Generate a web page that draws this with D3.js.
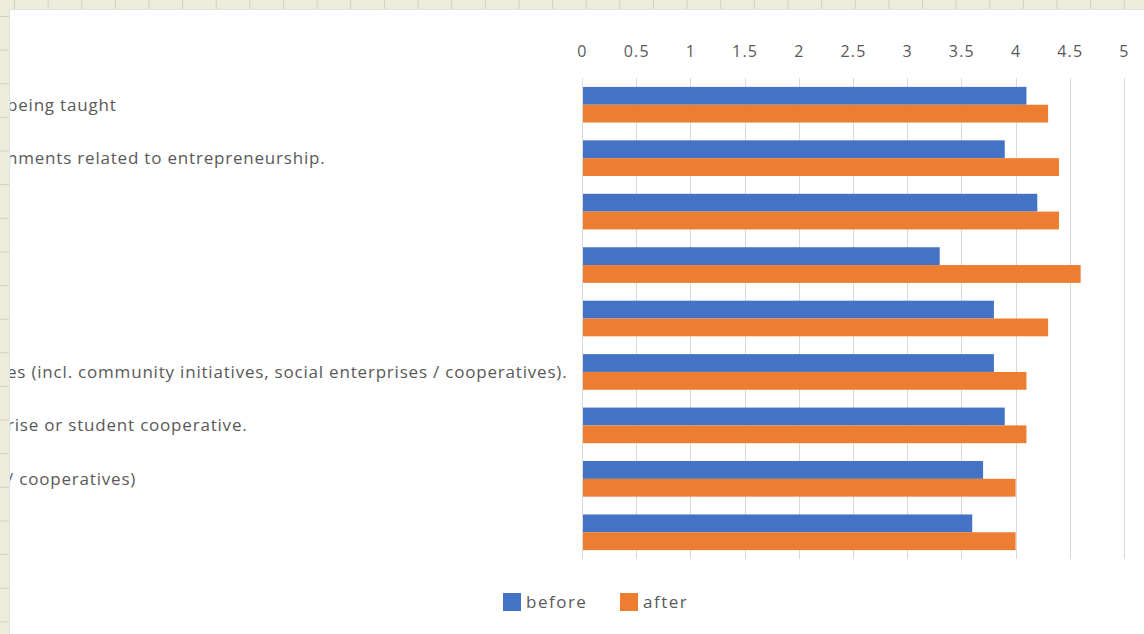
<!DOCTYPE html>
<meta charset="utf-8">
<style>
  body { margin: 0; background: #eeedd9; }
  svg { display: block; }
  .lbl { font-family: "Open Sans", sans-serif; font-size: 17px; letter-spacing: 0.8px; fill: #595959; }
  .tick text { font-family: "Open Sans", sans-serif; font-size: 16px; letter-spacing: 1.2px; fill: #595959; }
</style>
<svg width="1144" height="634"></svg>
<script src="https://d3js.org/d3.v7.min.js"></script>
<script>

// category labels, only the part that shows in the chart window
var categories = [
  "being taught",
  "nments related to entrepreneurship.",
  "",
  "",
  "",
  "es (incl. community initiatives, social enterprises / cooperatives).",
  "rise or student cooperative.",
  "/ cooperatives)",
  ""
];
var before = [4.1, 3.9, 4.2, 3.3, 3.8, 3.8, 3.9, 3.7, 3.6];
var after  = [4.3, 4.4, 4.4, 4.6, 4.3, 4.1, 4.1, 4.0, 4.0];
var series = ["before", "after"];
var colors = ["#4472c4", "#ed7d31"];
var ticks = [0, 0.5, 1, 1.5, 2, 2.5, 3, 3.5, 4, 4.5, 5];

var svg = d3.select("svg"),
    width = +svg.attr("width"),
    height = +svg.attr("height");

// spreadsheet grid behind the chart
var cell = 33.63;
var bg = svg.append("g");
d3.range(14.5, width, cell).forEach(function(x) {
  bg.append("line").attr("x1", x).attr("x2", x).attr("y1", 0).attr("y2", 9)
    .attr("stroke", "#d4d2bf").attr("stroke-width", 1);
});
d3.range(16.5, height, cell).forEach(function(y) {
  bg.append("line").attr("x1", 0).attr("x2", 9).attr("y1", y).attr("y2", y)
    .attr("stroke", "#d4d2bf").attr("stroke-width", 1);
});

// chart area
svg.append("rect")
    .attr("x", 9.5).attr("y", 9.5)
    .attr("width", width).attr("height", height)
    .attr("fill", "#fff")
    .attr("stroke", "#dde1ea");

svg.append("clipPath").attr("id", "chartClip")
  .append("rect").attr("x", 10).attr("y", 10).attr("width", width).attr("height", height);

var plot = { left: 582, right: 1124, top: 78, bottom: 559 };

var x = d3.scaleLinear().domain([0, 5]).range([plot.left, plot.right]);
var y = d3.scaleBand().domain(d3.range(categories.length))
    .range([plot.top, plot.bottom]).paddingInner(1/3).paddingOuter(1/6);
var ySub = d3.scaleBand().domain(series).range([0, y.bandwidth()]);

// gridlines
svg.append("g")
  .selectAll("line")
  .data(ticks)
  .enter().append("line")
    .attr("x1", function(d) { return Math.round(x(d)) + 0.5; })
    .attr("x2", function(d) { return Math.round(x(d)) + 0.5; })
    .attr("y1", plot.top)
    .attr("y2", plot.bottom)
    .attr("stroke", "#d9d9d9")
    .attr("stroke-width", 1);

// top axis labels
var axis = svg.append("g")
    .attr("transform", "translate(0," + 57 + ")")
    .call(d3.axisTop(x).tickValues(ticks).tickSize(0).tickPadding(0).tickFormat(d3.format("")));
axis.select(".domain").remove();
axis.selectAll(".tick text").attr("font-family", null).attr("font-size", null);

// bars
var groups = svg.append("g")
  .selectAll("g")
  .data(categories.map(function(c, i) { return { i: i, values: [before[i], after[i]] }; }))
  .enter().append("g")
    .attr("transform", function(d) { return "translate(0," + y(d.i) + ")"; });

groups.selectAll("rect")
  .data(function(d) { return d.values.map(function(v, k) { return { k: k, v: v }; }); })
  .enter().append("rect")
    .attr("x", x(0) + 1)
    .attr("y", function(d) { return ySub(series[d.k]); })
    .attr("width", function(d) { return x(d.v) - x(0) - 1; })
    .attr("height", ySub.bandwidth())
    .attr("fill", function(d) { return colors[d.k]; });

// category labels, cut off at the left edge of the chart window
svg.append("g")
    .attr("clip-path", "url(#chartClip)")
  .selectAll("text")
  .data(categories)
  .enter().append("text")
    .attr("class", "lbl")
    .attr("x", 7)
    .attr("y", function(d, i) { return y(i) + y.bandwidth() / 2; })
    .attr("dy", "0.35em")
    .text(function(d) { return d; });

// legend
var legend = svg.append("g").attr("transform", "translate(503,593)");
var item = legend.selectAll("g")
  .data(series)
  .enter().append("g")
    .attr("transform", function(d, i) { return "translate(" + (i * 117) + ",0)"; });
item.append("rect")
    .attr("width", 18).attr("height", 18)
    .attr("fill", function(d, i) { return colors[i]; });
item.append("text")
    .attr("class", "lbl")
    .attr("x", 23)
    .attr("y", 9)
    .attr("dy", "0.38em")
    .style("font-size", "17px")
    .style("letter-spacing", "1.5px")
    .text(function(d) { return d; });

</script>
